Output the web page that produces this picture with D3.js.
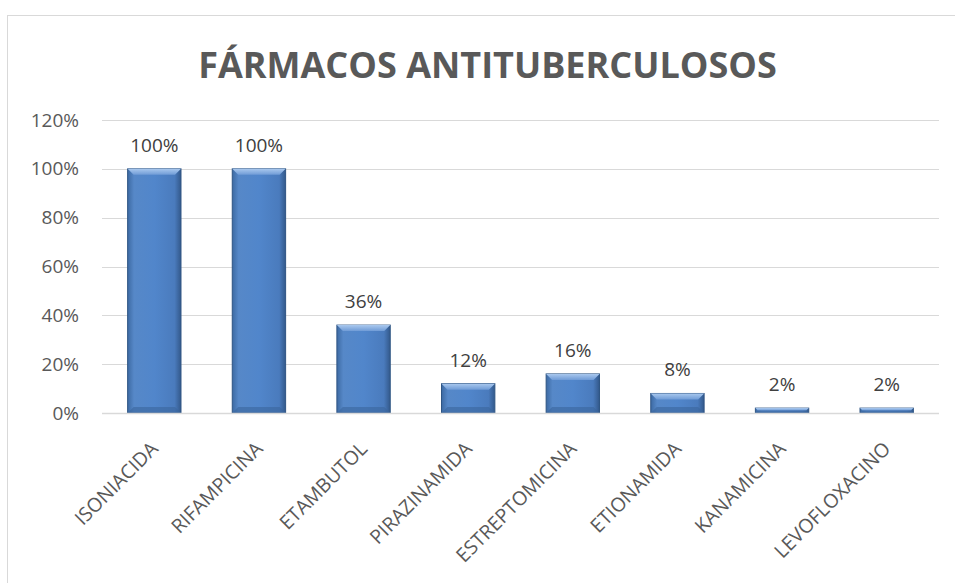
<!DOCTYPE html>
<html><head><meta charset="utf-8">
<script src="https://cdn.jsdelivr.net/npm/d3@7"></script>
<style>body{margin:0;background:#fff}svg{display:block}</style>
</head><body>
<script>
const title = "FÁRMACOS ANTITUBERCULOSOS";
const categories = ["ISONIACIDA","RIFAMPICINA","ETAMBUTOL","PIRAZINAMIDA","ESTREPTOMICINA","ETIONAMIDA","KANAMICINA","LEVOFLOXACINO"];
const values = [1.00,1.00,0.36,0.12,0.16,0.08,0.02,0.02];
const yTicks = [0,0.2,0.4,0.6,0.8,1.0,1.2];

const W=955,H=583;
const svg=d3.select("body").append("svg").attr("width",W).attr("height",H);
const font="'Open Sans', Lato, sans-serif";
const txt="#595959";

// frame
svg.append("rect").attr("x",7.5).attr("y",15.5).attr("width",W).attr("height",H).attr("fill","none").attr("stroke","#d9d9d9").attr("stroke-width",1);

const defs=svg.append("defs");
const g1=defs.append("linearGradient").attr("id","body").attr("x1",0).attr("x2",1).attr("y1",0).attr("y2",0);
g1.append("stop").attr("offset","0%").attr("stop-color","#3d6aa3");
g1.append("stop").attr("offset","12%").attr("stop-color","#5688c8");
g1.append("stop").attr("offset","50%").attr("stop-color","#5186cb");
g1.append("stop").attr("offset","88%").attr("stop-color","#4a7bbd");
g1.append("stop").attr("offset","100%").attr("stop-color","#33598b");
const g2=defs.append("linearGradient").attr("id","top").attr("x1",0).attr("x2",0).attr("y1",0).attr("y2",1);
g2.append("stop").attr("offset","0%").attr("stop-color","#a9c8ee");
g2.append("stop").attr("offset","100%").attr("stop-color","#6f9bd6");

const x=d3.scaleBand().domain(categories).range([102,939]).paddingInner(0.49).paddingOuter(0.245);
const y=d3.scaleLinear().domain([0,1.2]).range([413,120]);

// gridlines
svg.append("g").selectAll("line").data(yTicks).join("line")
  .attr("x1",102).attr("x2",939).attr("y1",d=>Math.round(y(d))+0.5).attr("y2",d=>Math.round(y(d))+0.5)
  .attr("stroke","#d9d9d9").attr("stroke-width",1);

// y axis labels
const yAxis=d3.axisLeft(y).tickValues(yTicks).tickFormat(d3.format(".0%")).tickSize(0).tickPadding(0);
const ya=svg.append("g").attr("transform","translate(79,0)").call(yAxis);
ya.select(".domain").remove();
ya.selectAll("text").attr("font-family",font).attr("font-size",19).attr("fill",txt);

// bars
const bars=svg.append("g").selectAll("g").data(categories).join("g");
bars.each(function(c,i){
  const gg=d3.select(this);
  const x0=x(c), bw=x.bandwidth(), y0=y(values[i]), y1=y(0), h=y1-y0;
  gg.append("rect").attr("x",x0).attr("y",y0).attr("width",bw).attr("height",h).attr("fill","url(#body)").attr("stroke","#2f5584").attr("stroke-width",1);
  const b=Math.min(6,h/2);
  gg.append("path").attr("d",`M${x0},${y0}L${x0+bw},${y0}L${x0+bw-b},${y0+b}L${x0+b},${y0+b}Z`).attr("fill","url(#top)");
  gg.append("path").attr("d",`M${x0},${y1}L${x0+bw},${y1}L${x0+bw-b},${y1-b}L${x0+b},${y1-b}Z`).attr("fill","#3a659d").attr("opacity",0.6);
});

// baseline
svg.append("line").attr("x1",102).attr("x2",939).attr("y1",413.5).attr("y2",413.5).attr("stroke","#d9d9d9").attr("stroke-width",1.5);

// data labels
svg.append("g").selectAll("text").data(categories).join("text")
  .attr("x",c=>x(c)+x.bandwidth()/2).attr("y",(c,i)=>y(values[i])-17)
  .attr("text-anchor","middle").attr("font-family",font).attr("font-size",19).attr("fill","#404040")
  .text((c,i)=>d3.format(".0%")(values[i]));

// x axis labels
const xAxis=d3.axisBottom(x).tickSize(0).tickPadding(0);
const xa=svg.append("g").call(xAxis);
xa.select(".domain").remove();
xa.selectAll(".tick").attr("transform",d=>`translate(${x(d)+x.bandwidth()/2+5},450)`);
xa.selectAll("text").attr("font-family",font).attr("font-size",19.5).attr("fill",txt)
  .attr("text-anchor","end").attr("dy",0).attr("y",0).attr("x",0).attr("transform","rotate(-45)");

// title
const t=svg.append("text").attr("x",487.5).attr("y",78).attr("text-anchor","middle")
  .attr("font-family",font).attr("font-weight","bold").attr("font-size",34).attr("fill",txt).text(title);
const tw=t.node().getComputedTextLength();
t.attr("font-size",34*579/tw);
</script>
</body></html>
